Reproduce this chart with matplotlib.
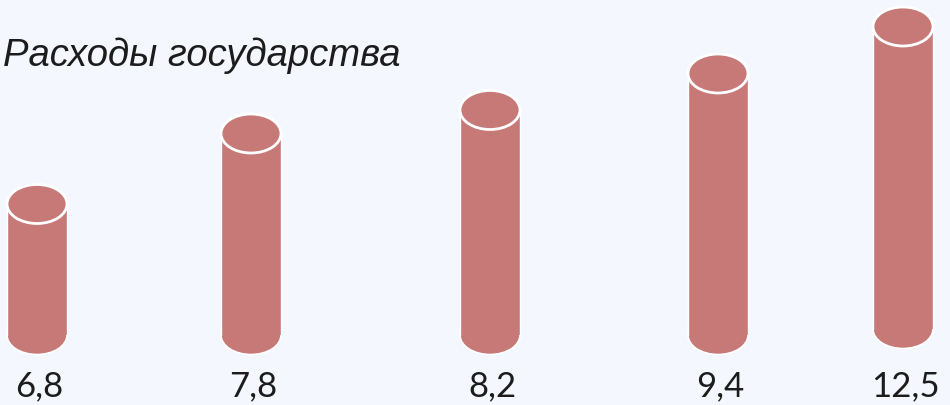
import matplotlib
matplotlib.use("Agg")
import matplotlib.pyplot as plt
from matplotlib.patches import Ellipse, Rectangle

BG = "#f4f8fe"
BAR = "#c67977"
TEXT = "#1c1c1c"

title = "Расходы государства"
labels = ["6,8", "7,8", "8,2", "9,4", "12,5"]
x_pos = [37, 251, 490, 718, 903]
bar_heights = [131, 201.5, 225, 261.5, 302.5]
bar_bases = [0, 0, 0, 0, 6]

W = 60      # cylinder width
EH = 39     # ellipse height

fig = plt.figure(figsize=(9.5, 4.05), dpi=100, facecolor=BG)
ax = fig.add_axes([0, 0, 1, 1])
ax.set_facecolor(BG)
ax.set_xlim(0, 950)
ax.set_ylim(-70, 335)
ax.axis("off")

for x, h, b, lab in zip(x_pos, bar_heights, bar_bases, labels):
    top = b + h
    # bottom cap
    ax.add_patch(Ellipse((x, b), W, EH, fc=BAR, ec="white", lw=1.2, zorder=2))
    # body
    ax.add_patch(Rectangle((x - W / 2, b), W, h, fc=BAR, ec="none", zorder=3))
    ax.plot([x - W / 2, x - W / 2], [b, top], color="white", lw=1.0, zorder=4)
    ax.plot([x + W / 2, x + W / 2], [b, top], color="white", lw=1.0, zorder=4)
    # top cap
    ax.add_patch(Ellipse((x, top), W, EH, fc=BAR, ec="white", lw=2.0, zorder=5))
    ax.text(x + 2, -51, lab, ha="center", va="center", fontsize=25,
            family="Lato", color=TEXT)

ax.text(3, 269, title, ha="left", va="baseline", fontsize=27.5,
        family="Liberation Sans", style="italic", color=TEXT)

fig.savefig("out.png", dpi=100, facecolor=BG)
